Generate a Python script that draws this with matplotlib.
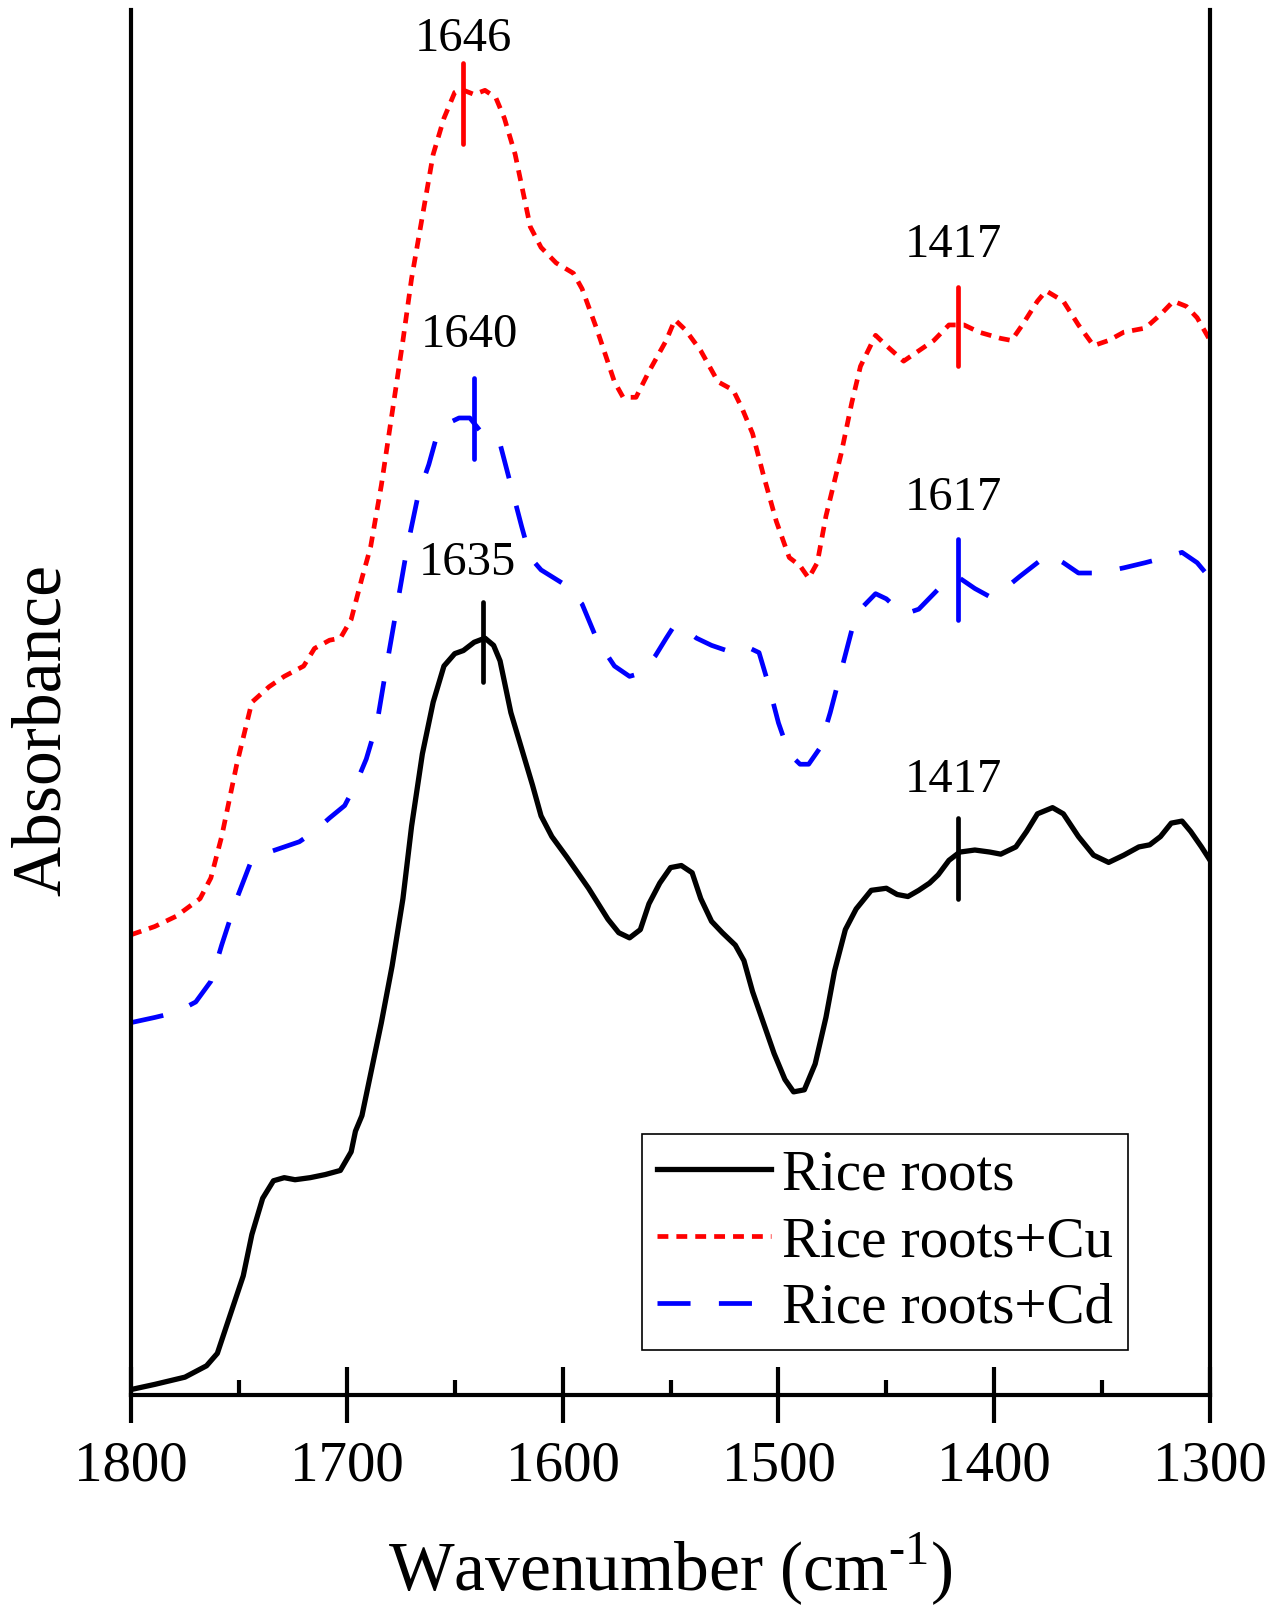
import numpy as np
import matplotlib
matplotlib.use("Agg")
import matplotlib.pyplot as plt

plt.rcParams['font.family'] = ['Liberation Serif', 'DejaVu Serif']
plt.rcParams['mathtext.fontset'] = 'custom'
plt.rcParams['mathtext.rm'] = 'Liberation Serif'

# Rice roots (black, solid)
wn_roots = [1800, 1789, 1775, 1765, 1760, 1756, 1748, 1744, 1739, 1734, 1729, 1724, 1717,
            1710, 1703, 1698, 1696, 1693, 1689, 1684, 1679, 1674, 1670, 1665, 1660, 1655,
            1650, 1646, 1641, 1636, 1632, 1629, 1624, 1619, 1614, 1610, 1605, 1598, 1588,
            1579, 1574, 1569, 1564, 1560, 1555, 1550, 1545, 1540, 1536, 1531, 1526, 1520,
            1516, 1512, 1507, 1502, 1497, 1493, 1488, 1483, 1478, 1474, 1469, 1464, 1457,
            1450, 1445, 1440, 1435, 1430, 1426, 1421, 1416, 1409, 1402, 1397, 1390, 1385,
            1380, 1373, 1368, 1361, 1354, 1347, 1340, 1333, 1328, 1323, 1318, 1313, 1309,
            1304, 1300]
abs_roots = [0.005, 0.010, 0.017, 0.028, 0.040, 0.065, 0.115, 0.155, 0.190, 0.207, 0.210,
             0.208, 0.210, 0.213, 0.217, 0.235, 0.255, 0.270, 0.310, 0.360, 0.415, 0.480,
             0.550, 0.620, 0.670, 0.705, 0.717, 0.720, 0.728, 0.732, 0.725, 0.710, 0.660,
             0.625, 0.590, 0.560, 0.540, 0.520, 0.490, 0.460, 0.447, 0.442, 0.450, 0.475,
             0.495, 0.510, 0.512, 0.505, 0.480, 0.458, 0.447, 0.435, 0.420, 0.390, 0.360,
             0.330, 0.305, 0.293, 0.295, 0.320, 0.365, 0.410, 0.450, 0.470, 0.488, 0.490,
             0.484, 0.482, 0.488, 0.495, 0.503, 0.517, 0.525, 0.527, 0.525, 0.523, 0.530,
             0.545, 0.562, 0.568, 0.562, 0.540, 0.522, 0.515, 0.522, 0.530, 0.532, 0.540,
             0.553, 0.555, 0.545, 0.530, 0.517]

# Rice roots + Cu (red, dotted)
wn_cu = [1800, 1789, 1779, 1768, 1763, 1758, 1751, 1744, 1736, 1729, 1720, 1715, 1708, 1703,
         1698, 1693, 1689, 1684, 1679, 1674, 1670, 1665, 1660, 1655, 1650, 1647, 1641, 1636,
         1631, 1627, 1622, 1619, 1615, 1610, 1603, 1595, 1591, 1584, 1576, 1572, 1566, 1560,
         1552, 1548, 1543, 1536, 1528, 1521, 1517, 1512, 1507, 1501, 1495, 1490, 1486, 1482,
         1478, 1471, 1466, 1462, 1455, 1450, 1442, 1435, 1428, 1421, 1414, 1407, 1397, 1392,
         1387, 1380, 1376, 1368, 1361, 1354, 1347, 1340, 1330, 1323, 1317, 1311, 1306, 1300]
abs_cu = [0.445, 0.453, 0.463, 0.480, 0.500, 0.540, 0.610, 0.670, 0.685, 0.695, 0.705, 0.722,
          0.730, 0.732, 0.750, 0.790, 0.820, 0.880, 0.950, 1.020, 1.080, 1.140, 1.200, 1.235,
          1.260, 1.263, 1.258, 1.262, 1.255, 1.235, 1.200, 1.170, 1.130, 1.110, 1.095, 1.085,
          1.070, 1.030, 0.980, 0.965, 0.965, 0.990, 1.020, 1.040, 1.030, 1.010, 0.980, 0.972,
          0.955, 0.930, 0.890, 0.845, 0.810, 0.802, 0.790, 0.805, 0.850, 0.910, 0.960, 0.995,
          1.025, 1.015, 1.000, 1.010, 1.020, 1.035, 1.035, 1.028, 1.022, 1.020, 1.035, 1.058,
          1.068, 1.058, 1.035, 1.015, 1.020, 1.028, 1.032, 1.045, 1.058, 1.053, 1.042, 1.020]

# Rice roots + Cd (blue, dashed)
wn_cd = [1800, 1789, 1779, 1770, 1763, 1758, 1751, 1744, 1736, 1729, 1722, 1715, 1708, 1701,
         1696, 1691, 1686, 1682, 1677, 1672, 1667, 1662, 1658, 1653, 1648, 1643, 1638, 1634,
         1629, 1624, 1619, 1615, 1610, 1600, 1591, 1584, 1576, 1569, 1564, 1557, 1552, 1548,
         1543, 1538, 1531, 1524, 1516, 1509, 1505, 1500, 1495, 1490, 1486, 1481, 1476, 1471,
         1466, 1462, 1455, 1450, 1442, 1435, 1428, 1421, 1416, 1409, 1402, 1395, 1388, 1380,
         1375, 1368, 1361, 1354, 1347, 1340, 1330, 1321, 1313, 1306, 1300]
abs_cd = [0.360, 0.365, 0.370, 0.380, 0.400, 0.435, 0.480, 0.518, 0.525, 0.530, 0.535, 0.545,
          0.558, 0.570, 0.590, 0.615, 0.650, 0.700, 0.760, 0.820, 0.870, 0.900, 0.930, 0.940,
          0.945, 0.945, 0.932, 0.930, 0.920, 0.880, 0.840, 0.810, 0.798, 0.785, 0.765, 0.730,
          0.705, 0.695, 0.698, 0.715, 0.732, 0.745, 0.740, 0.732, 0.725, 0.720, 0.725, 0.718,
          0.690, 0.650, 0.620, 0.610, 0.610, 0.625, 0.660, 0.700, 0.740, 0.760, 0.775, 0.770,
          0.755, 0.760, 0.775, 0.790, 0.790, 0.780, 0.772, 0.780, 0.792, 0.805, 0.813, 0.805,
          0.795, 0.795, 0.797, 0.800, 0.805, 0.810, 0.815, 0.805, 0.790]

# peak markers: position, label, colour, marker bottom/top, label height
peak_pos = [1646, 1641, 1637, 1417, 1417, 1417]
peak_text = ['1646', '1640', '1635', '1417', '1617', '1417']
peak_text_x = [1646, 1643, 1644, 1419, 1419, 1419]
peak_color = ['#ff0000', '#0000ff', 'black', '#ff0000', '#0000ff', 'black']
peak_lo = [1.210, 0.905, 0.690, 0.995, 0.750, 0.480]
peak_hi = [1.288, 0.984, 0.767, 1.072, 0.828, 0.558]
peak_text_y = [1.312, 1.025, 0.805, 1.112, 0.868, 0.595]

fig = plt.figure(figsize=(12.77, 16.18), dpi=100)
ax = fig.add_axes([0.1026, 0.138, 0.845, 0.856])

ax.plot(wn_roots, abs_roots, color='black', lw=3.8, label='Rice roots', solid_joinstyle='round')
ax.plot(wn_cu, abs_cu, color='#ff0000', lw=3.4, dashes=(2.3, 1.7), label='Rice roots+Cu')
ax.plot(wn_cd, abs_cd, color='#0000ff', lw=3.4, dashes=(7, 6), label='Rice roots+Cd')

for p, t, tx, c, lo, hi, ty in zip(peak_pos, peak_text, peak_text_x, peak_color,
                                   peak_lo, peak_hi, peak_text_y):
    ax.plot([p, p], [lo, hi], color=c, lw=3.4, solid_capstyle='round')
    ax.text(tx, ty, t, ha='center', va='center', fontsize=35)

ax.set_xlim(1800, 1300)
ax.set_ylim(0, 1.34)
ax.set_xticks([1800, 1700, 1600, 1500, 1400, 1300])
ax.set_xticks([1750, 1650, 1550, 1450, 1350], minor=True)
ax.set_yticks([])
ax.spines['top'].set_visible(False)
for s in ['left', 'right', 'bottom']:
    ax.spines[s].set_linewidth(3.0)
ax.tick_params(axis='x', which='major', direction='inout', length=40, width=3.0,
               labelsize=41, pad=13)
ax.tick_params(axis='x', which='minor', direction='in', length=11, width=3.0)

ax.set_xlabel('Wavenumber (cm$^{\\text{-1}}$)', fontsize=50)
ax.xaxis.set_label_coords(0.5, -0.098)
ax.set_ylabel('Absorbance', fontsize=50)
ax.yaxis.set_label_coords(-0.052, 0.48)

leg = ax.legend(loc='lower right', bbox_to_anchor=(0.924, 0.0325), borderaxespad=0,
                fontsize=41, fancybox=False, framealpha=1, edgecolor='black',
                handlelength=2.0, handletextpad=0.2, labelspacing=0.26,
                borderpad=0.26)
leg.get_frame().set_linewidth(1.2)

fig.savefig('out.png', dpi=100)
